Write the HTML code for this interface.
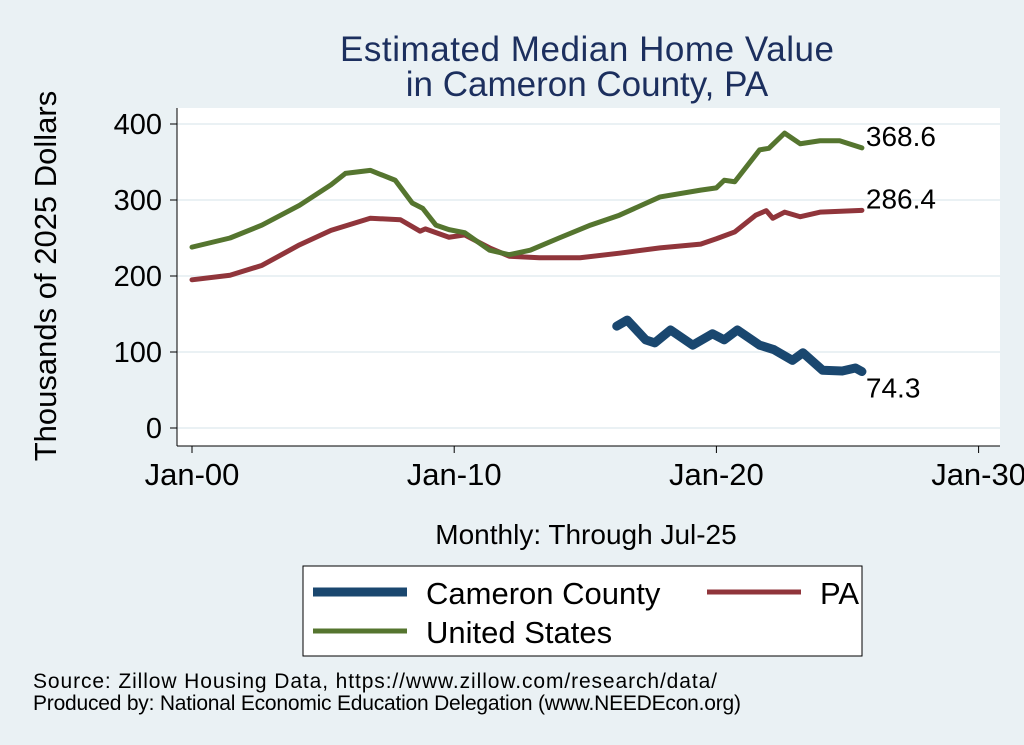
<!DOCTYPE html>
<html><head><meta charset="utf-8"><style>
body{margin:0;background:#eaf1f4;}
svg{display:block;font-family:"Liberation Sans",sans-serif;}
</style></head><body>
<svg width="1024" height="745">
<rect x="0" y="0" width="1024" height="745" fill="#eaf1f4"/>
<rect x="177" y="108" width="823" height="338" fill="#fff"/>
<text x="587" y="61" font-size="35" fill="#1c2f5e" text-anchor="middle" textLength="494">Estimated Median Home Value</text>
<text x="587" y="96" font-size="35" fill="#1c2f5e" text-anchor="middle">in Cameron County, PA</text>
<g id="grid"></g>
<g id="axes"></g>
<g id="series"></g>
<text x="56" y="276" font-size="31" text-anchor="middle" transform="rotate(-90 56 276)">Thousands of 2025 Dollars</text>
<text x="586" y="544" font-size="28" text-anchor="middle">Monthly: Through Jul-25</text>
<g>
<rect x="303" y="566" width="559" height="90" fill="#fff" stroke="#000" stroke-width="1"/>
<line x1="313" y1="592" x2="407" y2="592" stroke="#1a476f" stroke-width="9"/>
<text x="426" y="604" font-size="31">Cameron County</text>
<line x1="707" y1="592" x2="801" y2="592" stroke="#90353b" stroke-width="5"/>
<text x="820" y="604" font-size="31">PA</text>
<line x1="313" y1="631" x2="407" y2="631" stroke="#55752f" stroke-width="5"/>
<text x="426" y="643" font-size="31">United States</text>
</g>
<text x="33" y="688" font-size="21" textLength="684">Source: Zillow Housing Data, https://www.zillow.com/research/data/</text>
<text x="33" y="710" font-size="21" textLength="708">Produced by: National Economic Education Delegation (www.NEEDEcon.org)</text>
</svg>
<script>
const yTicks=[0,100,200,300,400];
const xTicks=[2000,2010,2020,2030];
const xTickLabels=["Jan-00","Jan-10","Jan-20","Jan-30"];
const usDates=[2000,2001.45,2002.67,2004.1,2005.3,2005.85,2006.8,2007.75,2008.4,2008.8,2009.3,2009.8,2010.4,2011.35,2012.1,2012.9,2014,2015.2,2016.3,2017.85,2019.4,2020,2020.3,2020.7,2021.65,2022,2022.6,2023.2,2023.95,2024.7,2025.55];
const usValues=[238,250,267,293,320,335,339,326,296,289,267,261,257,234,228,234,250,267,280,304,313,316,326,324,366,368,388,374,378,378,368.6];
const paDates=[2000,2001.45,2002.67,2004.1,2005.3,2006.8,2007.95,2008.7,2008.9,2009.8,2010.4,2011.35,2012.1,2013.25,2014.8,2016.3,2017.85,2019.4,2020,2020.7,2021.5,2021.9,2022.15,2022.6,2023.2,2023.95,2025.55];
const paValues=[195,201,214,241,260,276,274,259,262,251,254,237,226,224,224,230,237,242,249,258,280,286,276,284,278,284,286.4];
const camDates=[2016.2,2016.6,2017.3,2017.65,2018.25,2019.1,2019.85,2020.3,2020.8,2021.65,2022.2,2022.9,2023.3,2024.05,2024.8,2025.3,2025.55];
const camValues=[134,142,116,112,129,109,124,116,129,109,103,89,99,76,75,79,74.3];
const labelValues=[368.6,286.4,74.3];
const NS="http://www.w3.org/2000/svg";
const xS=d=>192+(d-2000)*26.22;
const yS=v=>428-v*0.76;
function mk(tag,attrs,parent){const e=document.createElementNS(NS,tag);for(const k in attrs)e.setAttribute(k,attrs[k]);parent.appendChild(e);return e;}
const grid=document.getElementById('grid'),axes=document.getElementById('axes'),ser=document.getElementById('series');
mk('line',{x1:177,y1:108,x2:177,y2:446,stroke:'#000','stroke-width':1},axes);
mk('line',{x1:177,y1:446,x2:1000,y2:446,stroke:'#000','stroke-width':1},axes);
yTicks.forEach(v=>{
 const g=mk('line',{x1:177,x2:1000,y1:yS(v),y2:yS(v),stroke:'#eaf1f4','stroke-width':2},grid);
 
 mk('line',{x1:170,x2:177,y1:yS(v),y2:yS(v),stroke:'#000'},axes);
 const t=mk('text',{x:162,y:yS(v)+10,'font-size':29,'text-anchor':'end'},axes);t.textContent=v;
 
 
});
xTicks.forEach((d,i)=>{
 mk('line',{x1:xS(d),x2:xS(d),y1:446,y2:453,stroke:'#000'},axes);
 const t=mk('text',{x:xS(d),y:485,'font-size':31,'text-anchor':'middle'},axes);t.textContent=xTickLabels[i];
 
 
});
function line(dates,vals,color,w,name){
 const p=mk('polyline',{points:dates.map((d,i)=>xS(d)+','+yS(vals[i])).join(' '),fill:'none',stroke:color,'stroke-width':w,'stroke-linejoin':'round','stroke-linecap':'round'},ser);
 
 
}
line(paDates,paValues,'#90353b',5,'pa-line');
line(usDates,usValues,'#55752f',5,'us-line');
line(camDates,camValues,'#1a476f',9,'cameron-line');
const ends=[[usDates,usValues,-2],[paDates,paValues,-2],[camDates,camValues,26]];
ends.forEach((e,i)=>{
 const d=e[0][e[0].length-1],v=e[1][e[1].length-1];
 const t=mk('text',{x:xS(d)+4,y:yS(v)+e[2],'font-size':28},ser);t.textContent=labelValues[i].toFixed(1);
 
 
});
</script>
</body></html>
